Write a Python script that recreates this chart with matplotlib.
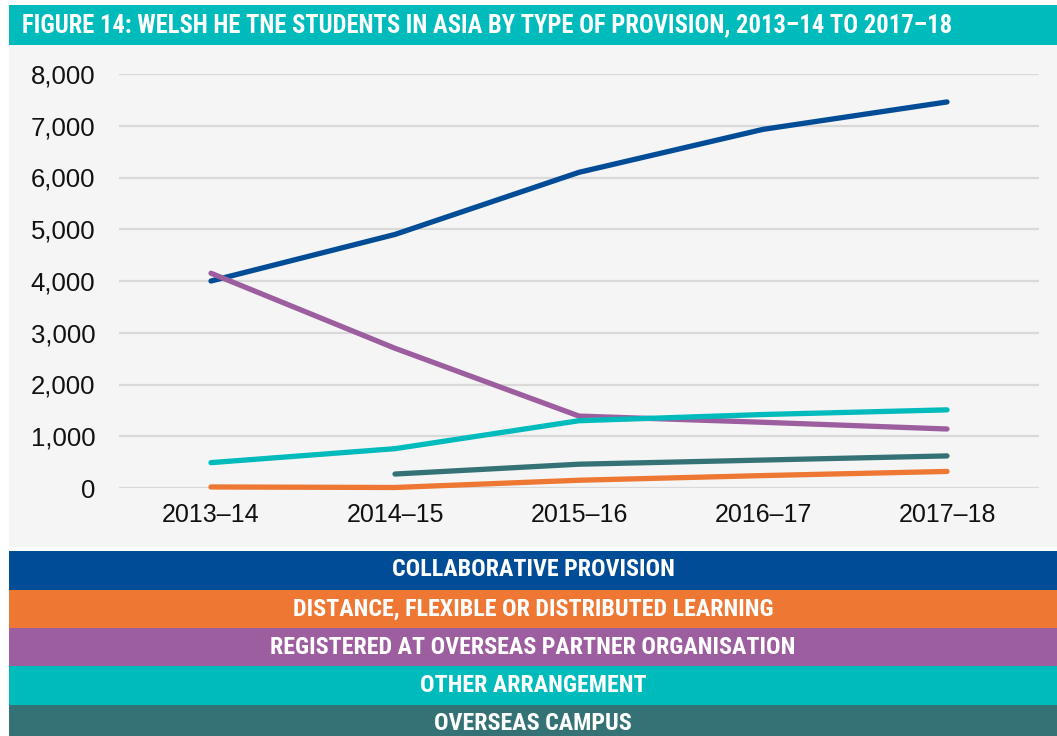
import matplotlib.pyplot as plt
import numpy as np
from matplotlib.patches import Rectangle

W, H = 1057, 736

years = ["2013\u201314", "2014\u201315", "2015\u201316", "2016\u201317", "2017\u201318"]

collaborative = [4000, 4900, 6100, 6930, 7460]
distance = [20, 10, 150, 240, 320]
registered = [4150, 2700, 1390, 1270, 1140]
other = [490, 760, 1300, 1420, 1510]
campus = [np.nan, 270, 460, 540, 620]

names = ["COLLABORATIVE PROVISION",
         "DISTANCE, FLEXIBLE OR DISTRIBUTED LEARNING",
         "REGISTERED AT OVERSEAS PARTNER ORGANISATION",
         "OTHER ARRANGEMENT",
         "OVERSEAS CAMPUS"]
colors = ["#004C97", "#ED7733", "#9D5EA0", "#00BBBB", "#357276"]
series = [collaborative, distance, registered, other, campus]

title = "FIGURE 14: WELSH HE TNE STUDENTS IN ASIA BY TYPE OF PROVISION, 2013\u201314 TO 2017\u201318"

narrow = ["Roboto Condensed", "Roboto", "DejaVu Sans"]

fig = plt.figure(figsize=(W / 100, H / 100), dpi=100)
fig.patch.set_facecolor("white")


def px_rect(x0, y0, x1, y1, color):
    # rectangle given in pixel coords (top-left origin)
    r = Rectangle((x0 / W, 1 - y1 / H), (x1 - x0) / W, (y1 - y0) / H,
                  transform=fig.transFigure, facecolor=color,
                  edgecolor="none", zorder=0)
    fig.add_artist(r)


# title banner
px_rect(9, 5, W, 45, "#00BBBB")
fig.text(22 / W, 1 - 25 / H, title, color="white", fontsize=17.7,
         fontweight="bold", family=narrow, fontstretch="condensed",
         va="center", ha="left")

# plot background
px_rect(9, 45, W, 547, "#F5F5F5")

ax = fig.add_axes([119 / W, 1 - 488 / H, 920 / W, 414 / H])
ax.set_facecolor("none")
x = np.arange(len(years))
for s, c in zip(series, colors):
    ax.plot(x, s, color=c, lw=3.8, solid_capstyle="round",
            solid_joinstyle="round", clip_on=False, zorder=3)

ax.set_xlim(-0.5, 4.5)
ax.set_ylim(0, 8000)
ax.set_yticks(np.arange(0, 8001, 1000))
ax.set_yticklabels([f"{v:,}" for v in range(0, 8001, 1000)])
ax.set_xticks(x)
ax.set_xticklabels(years)
ax.grid(axis="y", color="#D9D9D9", lw=1.6)
ax.set_axisbelow(True)
for sp in ax.spines.values():
    sp.set_visible(False)
ax.tick_params(axis="both", length=0, labelsize=18,
               labelcolor="#111111")
ax.tick_params(axis="y", labelsize=18.5, pad=17)
ax.tick_params(axis="x", pad=11)
for lbl in ax.get_xticklabels() + ax.get_yticklabels():
    lbl.set_family("Liberation Sans")

# legend bars
tops = [551, 590, 628, 666, 705]
for i, (n, c) in enumerate(zip(names, colors)):
    y0 = tops[i]
    y1 = y0 + 38.5
    px_rect(9, y0, W, y1, c)
    fig.text((9 + W) / 2 / W, 1 - (y0 + 19) / H, n, color="white",
             fontsize=17.3, fontweight="bold", family=narrow,
             fontstretch="condensed", ha="center", va="center")

fig.savefig("out.png", dpi=100, facecolor=fig.get_facecolor())
